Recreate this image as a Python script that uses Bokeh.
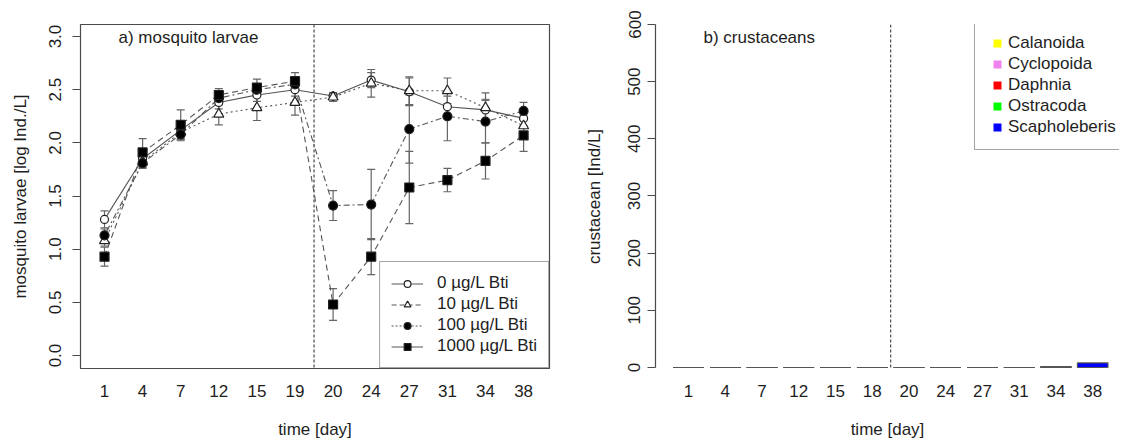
from bokeh.plotting import figure
from bokeh.layouts import row
from bokeh.models import (ColumnDataSource, Whisker, TeeHead, Span, Label, Legend,
                          LegendItem, FixedTicker, PrintfTickFormatter)
from bokeh.embed import file_html
from bokeh.resources import INLINE

# ---------------- data ----------------
days_a = ["1", "4", "7", "12", "15", "19", "20", "24", "27", "31", "34", "38"]
days_b = ["1", "4", "7", "12", "15", "18", "20", "24", "27", "31", "34", "38"]

bti_0 = [1.28, 1.85, 2.12, 2.38, 2.45, 2.50, 2.44, 2.59, 2.48, 2.34, 2.31, 2.23]
bti_0_se = [0.08, 0.05, 0.06, 0.06, 0.06, 0.06, 0.03, 0.07, 0.13, 0.10, 0.10, 0.07]
bti_10 = [1.08, 1.82, 2.10, 2.27, 2.33, 2.38, 2.43, 2.56, 2.49, 2.49, 2.33, 2.16]
bti_10_se = [0.05, 0.05, 0.06, 0.10, 0.12, 0.12, 0.04, 0.13, 0.13, 0.12, 0.14, 0.10]
bti_100 = [1.13, 1.81, 2.08, 2.42, 2.50, 2.55, 1.41, 1.42, 2.13, 2.25, 2.20, 2.30]
bti_100_se = [0.06, 0.05, 0.06, 0.06, 0.05, 0.05, 0.14, 0.33, 0.32, 0.23, 0.20, 0.08]
bti_1000 = [0.93, 1.91, 2.17, 2.45, 2.52, 2.58, 0.48, 0.93, 1.58, 1.65, 1.83, 2.07]
bti_1000_se = [0.09, 0.13, 0.14, 0.06, 0.08, 0.08, 0.15, 0.17, 0.34, 0.11, 0.17, 0.15]

taxa = ["Calanoida", "Cyclopoida", "Daphnia", "Ostracoda", "Scapholeberis"]
calanoida = [0, 0, 0, 0, 0, 0, 0, 0, 0, 0, 0, 0]
cyclopoida = [0, 0, 0, 0, 0, 0, 0, 0, 0, 0, 0, 0]
daphnia = [0, 0, 0, 0, 0, 0, 0, 0, 0, 0, 0, 0]
ostracoda = [0, 0, 0, 0, 0, 0, 0, 0, 0, 0, 0, 0]
scapholeberis = [0, 0, 0, 0, 0, 0, 0, 0, 0, 0, 1.5, 8]
taxa_colors = ["#ffff00", "#ee82ee", "#ff0000", "#00ff00", "#0000ff"]

FONT = "Liberation Sans"
FS = "17px"
TXT = "#1e1e1e"
LINE = "#4a4a4a"


def style_axes(p):
    for ax in (p.xaxis[0], p.yaxis[0]):
        ax.major_label_text_font = FONT
        ax.major_label_text_font_size = FS
        ax.major_label_text_color = TXT
        ax.axis_label_text_font = FONT
        ax.axis_label_text_font_size = FS
        ax.axis_label_text_font_style = "normal"
        ax.axis_label_text_color = TXT


# ---------------- panel a ----------------
p1 = figure(width=575, height=442, output_backend="svg", toolbar_location=None,
            x_range=(0.37, 12.68), y_range=(-0.122, 3.113),
            min_border_left=80, min_border_right=26, min_border_top=24, min_border_bottom=74)
p1.xgrid.grid_line_color = None
p1.ygrid.grid_line_color = None
p1.outline_line_color = LINE
p1.outline_line_width = 1.2

xs = list(range(1, len(days_a) + 1))
series = [
    ("0 µg/L Bti", bti_0, bti_0_se, "circle", "white", 8, "solid", "solid"),
    ("10 µg/L Bti", bti_10, bti_10_se, "triangle", "white", 10, "2 3", "5 3"),
    ("100 µg/L Bti", bti_100, bti_100_se, "circle", "black", 9, "2 3 6 3", "2 2"),
    ("1000 µg/L Bti", bti_1000, bti_1000_se, "square", "black", 9, "6 4", "solid"),
]

p1.add_layout(Span(location=6.5, dimension="height", line_color="#555",
                   line_dash="3 2", line_width=1.3))

sources = []
for name, ys, se, mk, fill, sz, dash, ldash in series:
    src = ColumnDataSource(dict(x=xs, y=ys,
                                upper=[a + b for a, b in zip(ys, se)],
                                lower=[a - b for a, b in zip(ys, se)]))
    sources.append(src)
    p1.line("x", "y", source=src, line_color="#555", line_width=1.1, line_dash=dash)

for src in sources:
    p1.add_layout(Whisker(source=src, base="x", upper="upper", lower="lower",
                          line_color="#666", line_width=1.2,
                          upper_head=TeeHead(size=8, line_color="#666", line_width=1.2),
                          lower_head=TeeHead(size=8, line_color="#666", line_width=1.2)))

for (name, ys, se, mk, fill, sz, dash, ldash), src in zip(series, sources):
    p1.scatter("x", "y", source=src, marker=mk, size=sz, fill_color=fill,
               line_color="#222", line_width=1.2)

# legend-only renderers (hidden), same data, line styles as in the original key
items = []
for (name, ys, se, mk, fill, sz, dash, ldash), src in zip(series, sources):
    lr = p1.line("x", "y", source=src, line_color="#555", line_width=1.1,
                 line_dash=ldash, visible=False)
    sr = p1.scatter("x", "y", source=src, marker=mk, size=sz, fill_color=fill,
                    line_color="#222", line_width=1.2, visible=False)
    items.append(LegendItem(label=name, renderers=[lr, sr]))
leg1 = Legend(items=items, location="bottom_right", margin=0, padding=11, spacing=1,
              glyph_width=32, glyph_height=17, label_height=17, label_standoff=14,
              label_text_font=FONT, label_text_font_size=FS, label_text_color=TXT,
              border_line_color=LINE, border_line_width=1.2, background_fill_alpha=1)
p1.add_layout(leg1)

p1.xaxis.ticker = FixedTicker(ticks=xs)
p1.xaxis.major_label_overrides = {i: d for i, d in zip(xs, days_a)}
p1.xaxis.major_tick_line_color = None
p1.xaxis.minor_tick_line_color = None
p1.xaxis.axis_line_color = None
p1.xaxis.major_label_standoff = 10
p1.xaxis.axis_label = "time [day]"
p1.xaxis.axis_label_standoff = 20

p1.yaxis.ticker = FixedTicker(ticks=[0, 0.5, 1, 1.5, 2, 2.5, 3])
p1.yaxis.formatter = PrintfTickFormatter(format="%.1f")
p1.yaxis.major_label_orientation = "vertical"
p1.yaxis.major_tick_out = 8
p1.yaxis.major_tick_in = 0
p1.yaxis.major_tick_line_color = LINE
p1.yaxis.minor_tick_line_color = None
p1.yaxis.axis_line_color = None
p1.yaxis.major_label_standoff = 11
p1.yaxis.axis_label = "mosquito larvae [log Ind./L]"
p1.yaxis.axis_label_standoff = 17
style_axes(p1)

p1.add_layout(Label(x=38, y=331, x_units="screen", y_units="screen",
                    text="a) mosquito larvae", text_font=FONT, text_font_size=FS,
                    text_color=TXT, text_baseline="middle"))

# ---------------- panel b ----------------
p2 = figure(width=544, height=442, output_backend="svg", toolbar_location=None,
            x_range=(-0.9, 11.73), y_range=(-1.8, 600),
            min_border_left=80, min_border_right=0, min_border_top=24, min_border_bottom=74)
p2.xgrid.grid_line_color = None
p2.ygrid.grid_line_color = None
p2.outline_line_color = None

xb = list(range(len(days_b)))
bsrc = ColumnDataSource(dict(x=xb, Calanoida=calanoida, Cyclopoida=cyclopoida,
                             Daphnia=daphnia, Ostracoda=ostracoda,
                             Scapholeberis=scapholeberis))
p2.add_layout(Span(location=5.5, dimension="height", line_color="#555",
                   line_dash="3 2", line_width=1.3))
p2.vbar_stack(taxa, x="x", width=0.833, source=bsrc, fill_color=taxa_colors,
              line_color="#555", line_width=1.1)

items2 = []
for t, c in zip(taxa, taxa_colors):
    r = p2.scatter("x", t, source=bsrc, marker="square", size=8, fill_color=c,
                   line_color=None, visible=False)
    items2.append(LegendItem(label=t, renderers=[r]))
leg2 = Legend(items=items2, location=(319, 218), margin=0, padding=12, spacing=1,
              glyph_width=20, glyph_height=20, label_height=17, label_standoff=1,
              label_text_font=FONT, label_text_font_size=FS, label_text_color=TXT,
              border_line_color=LINE, border_line_width=1.2, background_fill_alpha=1)
p2.add_layout(leg2)

p2.xaxis.ticker = FixedTicker(ticks=xb)
p2.xaxis.major_label_overrides = {i: d for i, d in zip(xb, days_b)}
p2.xaxis.major_tick_line_color = None
p2.xaxis.minor_tick_line_color = None
p2.xaxis.axis_line_color = None
p2.xaxis.major_label_standoff = 10
p2.xaxis.axis_label = "time [day]"
p2.xaxis.axis_label_standoff = 20

p2.yaxis.ticker = FixedTicker(ticks=[0, 100, 200, 300, 400, 500, 600])
p2.yaxis.bounds = (0, 600)
p2.yaxis.major_label_orientation = "vertical"
p2.yaxis.major_tick_out = 8
p2.yaxis.major_tick_in = 0
p2.yaxis.major_tick_line_color = LINE
p2.yaxis.axis_line_color = LINE
p2.yaxis.axis_line_width = 1.2
p2.yaxis.minor_tick_line_color = None
p2.yaxis.major_label_standoff = 7
p2.yaxis.axis_label = "crustacean [Ind/L]"
p2.yaxis.axis_label_standoff = 22
style_axes(p2)

p2.add_layout(Label(x=48, y=331, x_units="screen", y_units="screen",
                    text="b) crustaceans", text_font=FONT, text_font_size=FS,
                    text_color=TXT, text_baseline="middle"))

layout = row(p1, p2)
open("out.html", "w").write(file_html(layout, INLINE))
